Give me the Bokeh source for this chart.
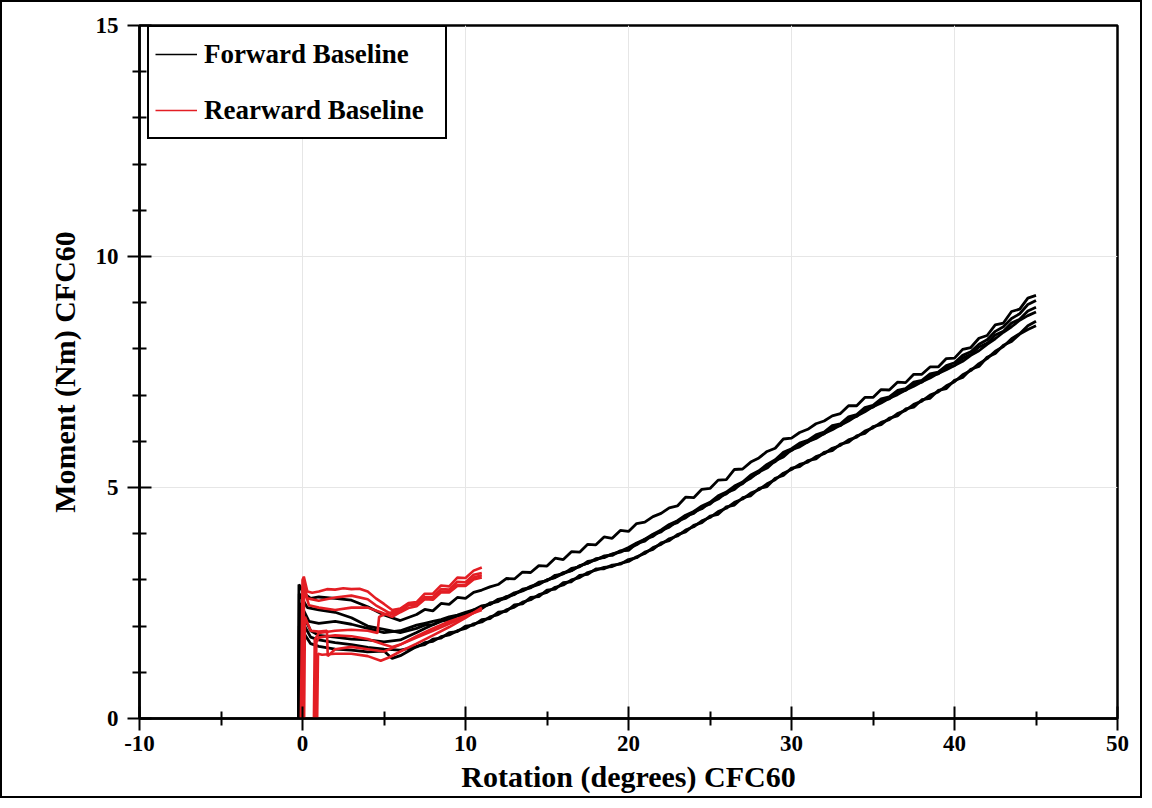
from bokeh.plotting import figure
from bokeh.models import FixedTicker, Legend, LegendItem, PrintfTickFormatter
from bokeh.embed import file_html
from bokeh.resources import INLINE

# ---- axis ticks ----
X_TICKS = [-10, 0, 10, 20, 30, 40, 50]
X_MINOR = [-5, 5, 15, 25, 35, 45]
Y_TICKS = [0, 5, 10, 15]
Y_MINOR = [1, 2, 3, 4, 6, 7, 8, 9, 11, 12, 13, 14]

# ---- Forward Baseline (black): start-up part as (rotation deg, moment Nm) ----
forward_1_start = [(-0.25, 0), (-0.22, 2.9), (0.1, 2.7), (0.5, 2.6), (1, 2.63), (2, 2.6), (3, 2.56),
                   (4, 2.42), (5, 2.24), (6, 2.12)]
forward_2_start = [(-0.25, 0), (-0.2, 2.7), (0.3, 2.4), (1, 2.35), (2, 2.3), (3, 2.18), (4, 2.0),
                   (5, 1.93), (6, 1.86)]
forward_3_start = [(-0.2, 0), (-0.15, 2.5), (0.4, 2.1), (1, 2.06), (2, 2.1), (3, 2.04), (4, 1.95),
                   (5, 1.86), (6, 1.9)]
forward_4_start = [(-0.2, 0), (-0.18, 2.2), (0.5, 1.76), (1, 1.7), (2, 1.64), (3, 1.6), (4, 1.54),
                   (5, 1.5), (6, 1.48)]
forward_5_start = [(-0.25, 0), (-0.2, 2.0), (0.5, 1.62), (1, 1.56), (2, 1.5), (3, 1.48), (4, 1.44),
                   (5, 1.46), (5.5, 1.3), (6, 1.36)]
forward_6_start = [(-0.2, 0), (-0.18, 2.4), (0.5, 1.9), (1, 1.8), (2, 1.76), (3, 1.72), (4, 1.7),
                   (5, 1.66), (6, 1.7)]

# ---- Forward Baseline: loading part, rotation samples and moments ----
TAIL_X = [7.0, 7.5, 8.0, 8.5, 9.0, 9.5, 10.0, 10.5, 11.0, 11.5,
          12.0, 12.5, 13.0, 13.5, 14.0, 14.5, 15.0, 15.5, 16.0, 16.5,
          17.0, 17.5, 18.0, 18.5, 19.0, 19.5, 20.0, 20.5, 21.0, 21.5,
          22.0, 22.5, 23.0, 23.5, 24.0, 24.5, 25.0, 25.5, 26.0, 26.5,
          27.0, 27.5, 28.0, 28.5, 29.0, 29.5, 30.0, 30.5, 31.0, 31.5,
          32.0, 32.5, 33.0, 33.5, 34.0, 34.5, 35.0, 35.5, 36.0, 36.5,
          37.0, 37.5, 38.0, 38.5, 39.0, 39.5, 40.0, 40.5, 41.0, 41.5,
          42.0, 42.5, 43.0, 43.5, 44.0, 44.5, 45.0]

forward_1_tail = [2.25, 2.36, 2.33, 2.49, 2.47, 2.62, 2.6, 2.73, 2.78, 2.85,
                  2.9, 3.03, 3.02, 3.17, 3.16, 3.31, 3.3, 3.47, 3.44, 3.61,
                  3.6, 3.77, 3.76, 3.93, 3.9, 4.07, 4.05, 4.22, 4.25, 4.37,
                  4.44, 4.56, 4.6, 4.79, 4.78, 4.96, 4.98, 5.16, 5.17, 5.39,
                  5.4, 5.55, 5.64, 5.78, 5.85, 6.05, 6.07, 6.19, 6.26, 6.38,
                  6.44, 6.55, 6.6, 6.77, 6.77, 6.95, 6.95, 7.12, 7.11, 7.28,
                  7.27, 7.45, 7.45, 7.61, 7.61, 7.79, 7.8, 7.99, 8.03, 8.23,
                  8.29, 8.52, 8.56, 8.81, 8.86, 9.1, 9.16]
forward_2_tail = [1.95, 2.02, 2.03, 2.12, 2.13, 2.22, 2.24, 2.35, 2.38, 2.5,
                  2.53, 2.64, 2.68, 2.8, 2.83, 2.95, 2.98, 3.1, 3.13, 3.25,
                  3.28, 3.4, 3.43, 3.52, 3.53, 3.63, 3.64, 3.79, 3.84, 3.98,
                  4.04, 4.18, 4.24, 4.38, 4.44, 4.58, 4.64, 4.79, 4.86, 5.0,
                  5.08, 5.24, 5.32, 5.48, 5.56, 5.72, 5.8, 5.93, 5.98, 6.11,
                  6.16, 6.3, 6.34, 6.49, 6.54, 6.69, 6.74, 6.88, 6.92, 7.06,
                  7.1, 7.24, 7.28, 7.42, 7.46, 7.6, 7.64, 7.8, 7.88, 8.04,
                  8.12, 8.3, 8.38, 8.56, 8.64, 8.82, 8.9]
forward_3_tail = [2.02, 2.06, 2.1, 2.14, 2.2, 2.24, 2.3, 2.35, 2.44, 2.47,
                  2.58, 2.62, 2.72, 2.77, 2.86, 2.92, 3.0, 3.06, 3.16, 3.2,
                  3.31, 3.36, 3.46, 3.48, 3.56, 3.6, 3.68, 3.76, 3.88, 3.94,
                  4.07, 4.14, 4.27, 4.34, 4.47, 4.54, 4.67, 4.75, 4.89, 4.96,
                  5.11, 5.2, 5.34, 5.42, 5.58, 5.66, 5.82, 5.88, 5.99, 6.06,
                  6.17, 6.25, 6.35, 6.44, 6.55, 6.64, 6.75, 6.83, 6.93, 7.01,
                  7.11, 7.19, 7.29, 7.37, 7.47, 7.55, 7.64, 7.73, 7.86, 7.96,
                  8.1, 8.22, 8.36, 8.48, 8.62, 8.72, 8.8]
forward_4_tail = [1.55, 1.64, 1.67, 1.77, 1.81, 1.9, 1.95, 2.05, 2.09, 2.2,
                  2.25, 2.35, 2.41, 2.52, 2.57, 2.68, 2.73, 2.84, 2.89, 3.0,
                  3.05, 3.16, 3.21, 3.27, 3.29, 3.36, 3.4, 3.5, 3.57, 3.7,
                  3.77, 3.89, 3.95, 4.08, 4.15, 4.28, 4.35, 4.48, 4.55, 4.68,
                  4.75, 4.88, 4.95, 5.08, 5.17, 5.31, 5.39, 5.5, 5.55, 5.67,
                  5.73, 5.85, 5.91, 6.03, 6.09, 6.22, 6.29, 6.41, 6.47, 6.6,
                  6.67, 6.8, 6.87, 7.0, 7.07, 7.2, 7.29, 7.44, 7.53, 7.68,
                  7.79, 7.95, 8.05, 8.22, 8.33, 8.5, 8.6]
forward_5_tail = [1.56, 1.6, 1.72, 1.74, 1.86, 1.88, 2.0, 2.02, 2.14, 2.16,
                  2.3, 2.32, 2.46, 2.48, 2.62, 2.64, 2.78, 2.8, 2.94, 2.96,
                  3.1, 3.12, 3.24, 3.24, 3.32, 3.34, 3.44, 3.48, 3.6, 3.66,
                  3.8, 3.85, 3.98, 4.04, 4.18, 4.24, 4.38, 4.42, 4.58, 4.62,
                  4.78, 4.82, 4.98, 5.02, 5.2, 5.26, 5.42, 5.45, 5.58, 5.62,
                  5.76, 5.8, 5.94, 5.98, 6.12, 6.17, 6.32, 6.36, 6.5, 6.55,
                  6.7, 6.74, 6.9, 6.93, 7.1, 7.14, 7.32, 7.38, 7.56, 7.62,
                  7.82, 7.9, 8.08, 8.16, 8.32, 8.42, 8.5]
forward_6_tail = [1.86, 1.95, 2.03, 2.1, 2.16, 2.22, 2.28, 2.33, 2.42, 2.47,
                  2.56, 2.6, 2.7, 2.76, 2.84, 2.9, 3.0, 3.05, 3.14, 3.2,
                  3.3, 3.36, 3.44, 3.5, 3.56, 3.62, 3.7, 3.8, 3.88, 3.99,
                  4.08, 4.2, 4.28, 4.4, 4.48, 4.6, 4.68, 4.82, 4.9, 5.03,
                  5.12, 5.27, 5.36, 5.5, 5.6, 5.76, 5.84, 5.96, 6.02, 6.14,
                  6.2, 6.34, 6.38, 6.53, 6.58, 6.73, 6.78, 6.92, 6.96, 7.1,
                  7.14, 7.28, 7.32, 7.46, 7.5, 7.64, 7.7, 7.86, 7.94, 8.1,
                  8.2, 8.38, 8.48, 8.66, 8.76, 8.96, 9.05]

FORWARD = [(forward_1_start, forward_1_tail), (forward_2_start, forward_2_tail),
           (forward_3_start, forward_3_tail), (forward_4_start, forward_4_tail),
           (forward_5_start, forward_5_tail), (forward_6_start, forward_6_tail)]

# ---- Rearward Baseline (red) ----
rearward_1 = [(-0.1, 0), (0.0, 3.0), (0.08, 3.07), (0.3, 2.75), (0.6, 2.72), (1, 2.75), (1.5, 2.8), (2, 2.79),
              (2.5, 2.82), (3, 2.8), (3.5, 2.81), (4, 2.75), (4.5, 2.6), (5, 2.48), (5.5, 2.35), (6, 2.38),
              (6.5, 2.5), (7, 2.52), (7.5, 2.7), (8, 2.7), (8.5, 2.88), (9, 2.86), (9.5, 3.05), (10, 3.04),
              (10.5, 3.2), (11, 3.27)]
rearward_2 = [(-0.05, 0), (0.05, 2.95), (0.3, 2.6), (1, 2.55), (2, 2.62), (3, 2.66), (4, 2.58), (4.5, 2.45),
              (5, 2.35), (5.5, 2.25), (6, 2.32), (6.5, 2.45), (7, 2.47), (7.5, 2.63), (8, 2.63), (8.5, 2.8),
              (9, 2.79), (9.5, 2.96), (10, 2.95), (10.5, 3.11), (11, 3.15)]
rearward_3 = [(0.0, 0), (0.1, 2.8), (0.4, 2.45), (1, 2.4), (2, 2.35), (3, 2.4), (4, 2.4), (4.8, 2.3),
              (5.5, 2.2), (6, 2.3), (6.5, 2.39), (7, 2.43), (7.5, 2.58), (8, 2.57), (8.5, 2.73), (9, 2.73),
              (9.5, 2.87), (10, 2.87), (10.5, 3.01), (11, 3.05)]
rearward_4 = [(0.7, 0), (0.75, 1.7), (1, 1.85), (2, 1.9), (3, 1.92), (4, 1.9), (4.6, 1.85), (4.7, 2.2),
              (5, 2.25), (5.5, 2.3), (6, 2.35), (6.5, 2.47), (7, 2.47), (7.5, 2.61), (8, 2.59), (8.5, 2.75),
              (9, 2.75), (9.5, 2.89), (10, 2.89), (10.5, 3.05), (11, 3.1)]
rearward_5 = [(0.8, 0), (0.85, 1.65), (1, 1.75), (1.5, 1.78), (2, 1.8), (3, 1.78), (4, 1.72), (5, 1.6),
              (5.5, 1.55), (6, 1.6), (7, 1.75), (8, 1.9), (9, 2.05), (10, 2.2), (11, 2.38)]
rearward_6 = [(0.9, 0), (0.95, 1.4), (1.2, 1.38), (2, 1.4), (3, 1.4), (4, 1.35), (4.8, 1.25), (5.3, 1.32),
              (6, 1.45), (7, 1.62), (8, 1.8), (9, 1.98), (10, 2.18), (11, 2.4)]
rearward_7 = [(0.1, 0), (0.15, 2.2), (0.5, 1.9), (1, 1.88), (1.5, 1.9), (1.55, 1.35), (2, 1.5), (3, 1.55),
              (4, 1.5), (5, 1.45), (6, 1.6), (7, 1.78), (8, 1.95), (9, 2.1), (10, 2.22), (11, 2.35)]

REARWARD = [rearward_1, rearward_2, rearward_3, rearward_4, rearward_5, rearward_6, rearward_7]

BLACK = "#000000"
RED = "#e31e24"
FONT = "Liberation Serif"

p = figure(width=1142, height=798, x_range=(-10, 50), y_range=(0, 15),
           output_backend="svg", toolbar_location=None,
           min_border_left=137, min_border_right=27, min_border_top=23, min_border_bottom=82,
           x_axis_label="Rotation (degrees) CFC60", y_axis_label="Moment (Nm) CFC60",
           styles={"border": "2px solid black"})

p.xaxis.ticker = FixedTicker(ticks=X_TICKS, minor_ticks=X_MINOR)
p.yaxis.ticker = FixedTicker(ticks=Y_TICKS, minor_ticks=Y_MINOR)
p.xaxis.formatter = PrintfTickFormatter(format="%d")
p.yaxis.formatter = PrintfTickFormatter(format="%d")

for ax in (p.xaxis[0], p.yaxis[0]):
    ax.axis_line_color = "black"
    ax.axis_line_width = 2.5
    ax.major_tick_line_color = "black"
    ax.major_tick_line_width = 2
    ax.minor_tick_line_color = "black"
    ax.minor_tick_line_width = 2
    ax.major_tick_in = 12
    ax.major_tick_out = 12
    ax.minor_tick_in = 7
    ax.minor_tick_out = 7
    ax.major_label_text_font = FONT
    ax.major_label_text_font_style = "bold"
    ax.major_label_text_font_size = "23px"
    ax.major_label_text_color = "black"
    ax.axis_label_text_font = FONT
    ax.axis_label_text_font_style = "bold"
    ax.axis_label_text_font_size = "30px"
    ax.axis_label_text_color = "black"

p.xaxis.axis_label_standoff = 6
p.yaxis.axis_label_standoff = 12
p.xaxis.major_label_standoff = 5
p.yaxis.major_label_standoff = 9

p.xgrid.grid_line_color = "#e6e6e6"
p.ygrid.grid_line_color = "#e6e6e6"
p.xgrid.grid_line_width = 1
p.ygrid.grid_line_width = 1

p.outline_line_color = "black"
p.outline_line_width = 2.5
p.outline_line_alpha = 1
p.background_fill_color = "white"
p.border_fill_color = "white"

for start, tail in FORWARD:
    xs = [pt[0] for pt in start] + TAIL_X
    ys = [pt[1] for pt in start] + tail
    p.line(xs, ys, line_color=BLACK, line_width=2.8)

for curve in REARWARD:
    xs = [pt[0] for pt in curve]
    ys = [pt[1] for pt in curve]
    p.line(xs, ys, line_color=RED, line_width=2.6)

nan = float("nan")
leg_f = p.line([nan], [nan], line_color=BLACK, line_width=1.5)
leg_r = p.line([nan], [nan], line_color=RED, line_width=1.5)

legend = Legend(items=[LegendItem(label="Forward Baseline", renderers=[leg_f]),
                       LegendItem(label="Rearward Baseline", renderers=[leg_r])],
                location=(8, 579), margin=0, padding=6, spacing=14,
                label_height=42, glyph_height=42, glyph_width=42, label_standoff=7,
                label_width=235,
                label_text_font=FONT, label_text_font_style="bold", label_text_font_size="27px",
                label_text_color="black",
                border_line_color="black", border_line_width=2, border_line_alpha=1,
                background_fill_color="white", background_fill_alpha=1)
p.add_layout(legend)

open("out.html", "w").write(file_html(p, INLINE))
